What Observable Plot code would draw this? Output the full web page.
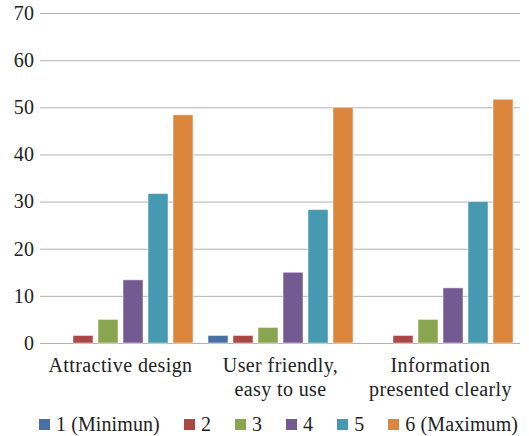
<!DOCTYPE html>
<html>
<head>
<meta charset="utf-8">
<script src="https://cdn.jsdelivr.net/npm/d3@7"></script>
<script src="https://cdn.jsdelivr.net/npm/@observablehq/plot@0.6"></script>
<style>
  html, body { margin: 0; padding: 0; background: #fff; }
  #chart { width: 529px; }
  .legend { display: flex; justify-content: flex-start; align-items: center; padding-top: 12px; padding-left: 39px;
    font-family: "Liberation Serif", serif; font-size: 20px; letter-spacing: 0.1px; color: #222; line-height: 24px; }
  .legend .item { display: flex; align-items: center; margin-right: 24px; }
  .legend .item:last-child { margin-right: 0; }
  .legend .sw { width: 11px; height: 11px; margin-right: 6px; }
</style>
</head>
<body>
<div id="chart"></div>
<script>
const groups = ["Attractive design", "User friendly,\neasy to use", "Information\npresented clearly"];
const seriesNames = ["1 (Minimun)", "2", "3", "4", "5", "6 (Maximum)"];
const rating1 = [0, 1.6, 0];
const rating2 = [1.6, 1.6, 1.6];
const rating3 = [5.0, 3.3, 5.0];
const rating4 = [13.4, 15.0, 11.7];
const rating5 = [31.7, 28.3, 30.0];
const rating6 = [48.4, 50.0, 51.7];
const yTicks = [0, 10, 20, 30, 40, 50, 60, 70];
const colors = ["#4a6fa5", "#aa4644", "#8aa54f", "#745a91", "#4599b1", "#dc853d"];

const seriesValues = [rating1, rating2, rating3, rating4, rating5, rating6];
const data = [];
groups.forEach((g, gi) => {
  seriesNames.forEach((s, si) => {
    data.push({group: g, series: s, value: seriesValues[si][gi]});
  });
});

const FONT = "Liberation Serif";

const plot = Plot.plot({
  width: 529,
  height: 400,
  marginTop: 13,
  marginLeft: 39,
  marginRight: 9,
  marginBottom: 57,
  style: {fontFamily: FONT, fontSize: "20px", letterSpacing: "0.4px", color: "#222", background: "white", overflow: "visible"},
  fx: {domain: groups, padding: 0, axis: null},
  x: {domain: seriesNames, paddingInner: 0.2, paddingOuter: 0.27, axis: null},
  y: {domain: [0, 70]},
  color: {domain: seriesNames, range: colors},
  marks: [
    Plot.ruleY(yTicks, {stroke: "#b3b3b3", strokeWidth: 1}),
    Plot.barY(data.filter(d => d.value > 0), {fx: "group", x: "series", y: "value", fill: "series", stroke: "#fff", strokeOpacity: 0.5, strokeWidth: 1}),
    Plot.axisY({ticks: yTicks, tickSize: 0, tickPadding: 6, line: true, stroke: "#a0a0a0", fill: "#222", label: null, fontSize: 20, fontFamily: FONT}),
    Plot.text(groups, {fx: d => d, text: d => d, frameAnchor: "bottom", lineAnchor: "top", dy: 11, lineHeight: 1.2, fill: "#222", fontSize: 20, fontFamily: FONT})
  ]
});
document.getElementById("chart").appendChild(plot);

const legend = document.createElement("div");
legend.className = "legend";
seriesNames.forEach((s, i) => {
  const item = document.createElement("div");
  item.className = "item";
  const sw = document.createElement("span");
  sw.className = "sw";
  sw.style.background = colors[i];
  const t = document.createElement("span");
  t.textContent = s;
  item.appendChild(sw);
  item.appendChild(t);
  legend.appendChild(item);
});
document.getElementById("chart").appendChild(legend);
</script>
</body>
</html>
